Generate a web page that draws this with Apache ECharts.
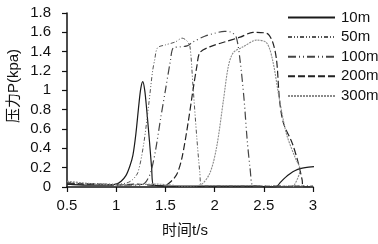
<!DOCTYPE html>
<html>
<head>
<meta charset="utf-8">
<script src="https://cdn.jsdelivr.net/npm/echarts@6/dist/echarts.min.js"></script>
<style>
  html, body { margin: 0; padding: 0; background: #fff; }
  #chart { width: 378px; height: 244px; }
</style>
</head>
<body>
<div id="chart"></div>
<script>
// time (s) and pressure (kpa), one pair of arrays per distance
var names = ['10m', '50m', '100m', '200m', '300m'];

var t10 = [0.5, 0.7, 0.9, 1.0, 1.05, 1.1, 1.14, 1.17, 1.2, 1.23, 1.25, 1.27, 1.29, 1.31, 1.34, 1.36, 1.38, 1.6, 2.0, 2.4, 2.62, 2.67, 2.72, 2.77, 2.82, 2.87, 2.92, 3.01];
var p10 = [0.03, 0.02, 0.02, 0.03, 0.06, 0.12, 0.22, 0.33, 0.55, 0.85, 1.02, 1.09, 1.0, 0.8, 0.45, 0.2, 0.02, 0.01, 0.01, 0.01, 0.0, 0.05, 0.1, 0.14, 0.17, 0.19, 0.2, 0.21];

var t50 = [0.5, 0.8, 1.0, 1.1, 1.16, 1.22, 1.28, 1.33, 1.37, 1.39, 1.42, 1.5, 1.6, 1.67, 1.72, 1.75, 1.78, 1.82, 1.85, 1.87, 2.2, 2.6, 3.0];
var p50 = [0.05, 0.03, 0.03, 0.04, 0.07, 0.15, 0.45, 0.85, 1.2, 1.31, 1.44, 1.47, 1.5, 1.54, 1.51, 1.45, 1.05, 0.5, 0.15, 0.01, 0.01, 0.01, 0.01];

var t100 = [0.5, 0.8, 1.1, 1.25, 1.3, 1.35, 1.4, 1.45, 1.5, 1.55, 1.58, 1.65, 1.72, 1.78, 1.9, 2.0, 2.1, 2.17, 2.22, 2.26, 2.3, 2.33, 2.36, 2.39, 2.45, 2.7, 3.0];
var p100 = [0.04, 0.03, 0.02, 0.02, 0.05, 0.15, 0.38, 0.7, 1.0, 1.3, 1.44, 1.45, 1.46, 1.5, 1.56, 1.59, 1.61, 1.6, 1.55, 1.3, 0.9, 0.5, 0.2, 0.01, 0.01, 0.01, 0.01];

var t200 = [0.5, 0.8, 1.0, 1.2, 1.35, 1.48, 1.56, 1.62, 1.67, 1.73, 1.78, 1.82, 1.85, 1.95, 2.1, 2.26, 2.39, 2.53, 2.59, 2.63, 2.66, 2.7, 2.79, 2.85, 2.89, 2.9, 3.0];
var p200 = [0.03, 0.03, 0.02, 0.03, 0.02, 0.01, 0.06, 0.14, 0.31, 0.66, 1.0, 1.25, 1.39, 1.45, 1.5, 1.55, 1.6, 1.59, 1.5, 1.31, 0.9, 0.66, 0.45, 0.25, 0.07, 0.0, 0.0];

var t300 = [0.5, 0.8, 1.1, 1.4, 1.7, 1.85, 1.95, 2.02, 2.09, 2.14, 2.19, 2.29, 2.43, 2.53, 2.59, 2.66, 2.73, 2.82, 2.87, 2.8];
var p300 = [0.06, 0.03, 0.02, 0.03, 0.01, 0.02, 0.14, 0.41, 0.9, 1.25, 1.39, 1.45, 1.52, 1.49, 1.31, 0.9, 0.55, 0.3, 0.18, 0.0];

var xTicks = [0.5, 1, 1.5, 2, 2.5, 3];
var yTicks = [0, 0.2, 0.4, 0.6, 0.8, 1, 1.2, 1.4, 1.6, 1.8];

function pairs(t, p) {
    var out = [];
    for (var i = 0; i < t.length; i++) out.push([t[i], p[i]]);
    return out;
}

var styles = [
    {color: '#1a1a1a', width: 1.2, type: 'solid'},
    {color: '#555555', width: 1, type: [4, 2, 1, 2, 1, 2]},
    {color: '#444444', width: 1.2, type: [8, 3, 1, 3, 1, 3]},
    {color: '#222222', width: 1.2, type: [7, 3]},
    {color: '#8a8a8a', width: 1.1, type: [2, 1]}
];

var series = [pairs(t10, p10), pairs(t50, p50), pairs(t100, p100), pairs(t200, p200), pairs(t300, p300)].map(function (d, i) {
    return {
        name: names[i],
        type: 'line',
        data: d,
        symbol: 'none',
        smooth: 0.3,
        animation: false,
        lineStyle: styles[i],
        itemStyle: {color: styles[i].color}
    };
});

var font = 'Liberation Sans, Noto Sans CJK SC, sans-serif';

var chart = echarts.init(document.getElementById('chart'));
chart.setOption({
    animation: false,
    grid: {left: 67, right: 65, top: 13, bottom: 57, containLabel: false},
    legend: {
        data: names,
        orient: 'vertical',
        left: 282,
        top: 5,
        itemWidth: 47,
        itemHeight: 14,
        itemGap: 4.6,
        itemStyle: {opacity: 0},
        textStyle: {fontFamily: font, fontSize: 15, color: '#111', padding: [0, 0, 0, 1]}
    },
    xAxis: {
        type: 'value',
        min: 0.5,
        max: 3,
        interval: 0.5,
        name: '时间t/s',
        nameLocation: 'middle',
        nameGap: 36,
        nameTextStyle: {fontFamily: font, fontSize: 15, color: '#111', padding: [0, 10, 0, 0]},
        axisLine: {lineStyle: {color: '#111', width: 1.5}},
        axisTick: {show: true, length: 5, lineStyle: {color: '#111', width: 1.2}},
        axisLabel: {fontFamily: font, fontSize: 15, color: '#111', margin: 11,
            formatter: function (v) { return xTicks.indexOf(v) >= 0 ? String(v) : ''; }},
        splitLine: {show: false}
    },
    yAxis: {
        type: 'value',
        min: 0,
        max: 1.8,
        interval: 0.2,
        axisLine: {show: true, lineStyle: {color: '#111', width: 1.5}},
        axisTick: {show: true, length: 5, lineStyle: {color: '#111', width: 1.2}},
        axisLabel: {fontFamily: font, fontSize: 15, color: '#111', margin: 16,
            formatter: function (v) {
                var r = Math.round(v * 10) / 10;
                return yTicks.indexOf(r) >= 0 ? String(r) : '';
            }},
        splitLine: {show: false}
    },
    graphic: [{
        type: 'text',
        x: 14,
        y: 86,
        rotation: Math.PI / 2,
        style: {
            text: '压力P(kpa)',
            fontFamily: font,
            fontSize: 15,
            fill: '#111',
            align: 'center',
            verticalAlign: 'middle'
        }
    }],
    series: series
});
</script>
</body>
</html>
